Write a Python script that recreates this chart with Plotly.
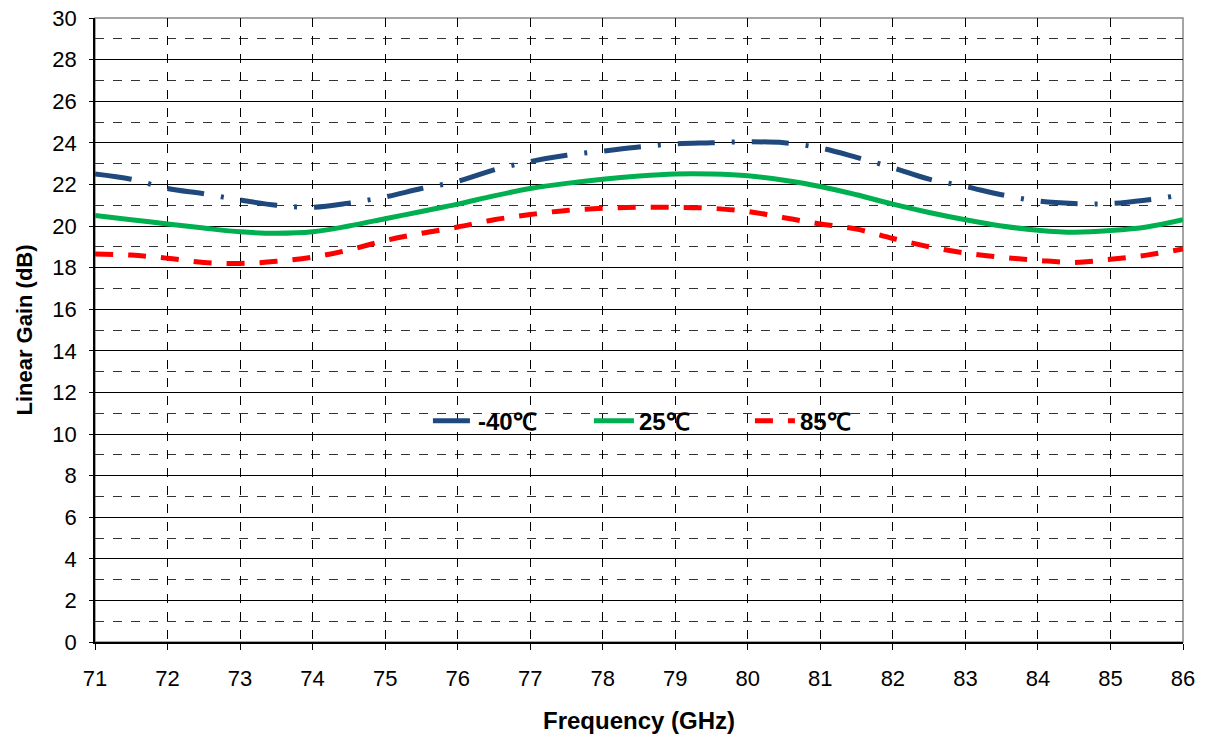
import plotly.graph_objects as go

freq = [71, 71.5, 72, 72.5, 73, 73.5, 74, 74.5, 75, 75.5, 76, 76.5, 77, 77.5, 78, 78.5,
        79, 79.5, 80, 80.5, 81, 81.5, 82, 82.5, 83, 83.5, 84, 84.5, 85, 85.5, 86]

gain_m40 = [22.5, 22.25, 21.8, 21.55, 21.25, 21.0, 20.9, 21.1, 21.4, 21.8, 22.15, 22.7, 23.1, 23.4,
            23.6, 23.8, 23.95, 24.0, 24.05, 24.0, 23.75, 23.3, 22.8, 22.25, 21.9, 21.5, 21.2,
            21.08, 21.08, 21.25, 21.5]
gain_25 = [20.5, 20.3, 20.1, 19.9, 19.72, 19.65, 19.72, 20.0, 20.35, 20.7, 21.05, 21.45, 21.8,
           22.05, 22.25, 22.4, 22.5, 22.5, 22.42, 22.2, 21.9, 21.5, 21.05, 20.65, 20.3, 20.0,
           19.8, 19.7, 19.78, 19.95, 20.3]
gain_85 = [18.65, 18.6, 18.45, 18.25, 18.2, 18.3, 18.5, 18.85, 19.3, 19.65, 19.95, 20.3, 20.55,
           20.75, 20.85, 20.9, 20.9, 20.85, 20.7, 20.4, 20.1, 19.85, 19.4, 19.0, 18.7, 18.5,
           18.35, 18.25, 18.4, 18.6, 18.9]

names = ["-40℃", "25℃", "85℃"]

x_ticks = list(range(71, 87))
y_ticks = list(range(0, 31, 2))

FONT = "Liberation Sans, Arial, sans-serif"

fig = go.Figure()
fig.add_trace(go.Scatter(x=freq, y=gain_m40, mode="lines", name=names[0], line_shape="spline",
                         line=dict(color="#1F497D", width=5, dash="37px,17px,3px,17px")))
fig.add_trace(go.Scatter(x=freq, y=gain_25, mode="lines", name=names[1], line_shape="spline",
                         line=dict(color="#00B050", width=5)))
fig.add_trace(go.Scatter(x=freq, y=gain_85, mode="lines", name=names[2], line_shape="spline",
                         line=dict(color="#FF0000", width=5, dash="18px,15px")))

fig.update_layout(
    width=1210, height=734,
    margin=dict(l=95, r=27, t=18, b=92, autoexpand=False),
    plot_bgcolor="white", paper_bgcolor="white",
    font=dict(family=FONT, color="black", size=22),
    showlegend=True,
    legend=dict(orientation="h", x=0.306, y=0.354, xanchor="left", yanchor="middle",
                bgcolor="rgba(0,0,0,0)", font=dict(size=24, family=FONT, weight="bold"),
                entrywidth=106, entrywidthmode="pixels", itemwidth=40),
    shapes=[dict(type="rect", xref="paper", yref="paper", x0=0, x1=1, y0=0, y1=1,
                 line=dict(color="#888888", width=1.5), layer="below")],
)

fig.update_xaxes(
    range=[71, 86], tickvals=x_ticks, ticktext=[str(v) for v in x_ticks],
    showgrid=True, gridcolor="black", gridwidth=1, griddash="dash",
    showline=True, linecolor="black", linewidth=1.5, automargin=False,
    ticks="outside", ticklen=6, tickcolor="black", ticklabelstandoff=10,
    tickfont=dict(size=22, family=FONT), zeroline=False,
    title=dict(text="<b>Frequency (GHz)</b>", font=dict(size=24, family=FONT), standoff=22),
)
fig.update_yaxes(
    range=[0, 30], tickvals=y_ticks, ticktext=[str(v) for v in y_ticks],
    showgrid=True, gridcolor="black", gridwidth=1,
    minor=dict(dtick=1, showgrid=True, gridcolor="#333333", griddash="dash", gridwidth=1),
    showline=True, linecolor="black", linewidth=1.5, automargin=False,
    ticks="outside", ticklen=4, tickcolor="black", ticklabelstandoff=8,
    tickfont=dict(size=22, family=FONT), zeroline=False,
    title=dict(text="<b>Linear Gain (dB)</b>", font=dict(size=22, family=FONT), standoff=14),
)

fig.write_html("out.html")
